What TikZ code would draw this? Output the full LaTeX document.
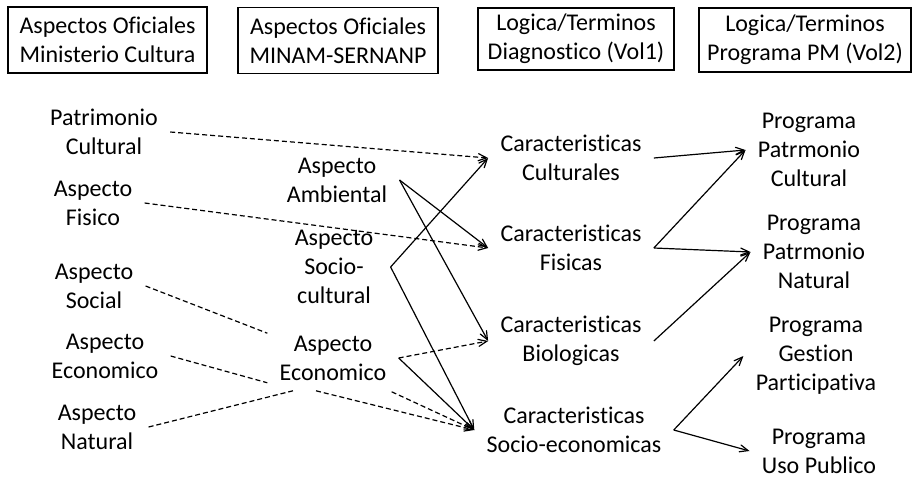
\documentclass[tikz,border=0pt]{standalone}
\usepackage{fontspec}
\setmainfont{Carlito}[Ligatures={NoCommon,NoRare,NoContextual}]
\usetikzlibrary{arrows, positioning, calc}
\tikzstyle{headbox} = [draw, line width=0.6pt, align=center, minimum height=33pt, inner sep=0pt]
\tikzstyle{term} = [align=center, inner xsep=6pt, inner ysep=1pt]
\tikzstyle{link} = [line width=0.6pt, ->, >=angle 45]
\tikzstyle{dlink} = [link, dash pattern=on 2.5pt off 1.5pt]
\tikzstyle{dline} = [line width=0.6pt, dash pattern=on 2.5pt off 1.5pt]

\begin{document}
\begin{tikzpicture}[x=0.5pt, y=-0.5pt, font=\fontsize{12}{14.6}\selectfont]
\useasboundingbox (0,0) rectangle (916,477);
% Column headers
\node[headbox, minimum width=99.5pt] (hmc) at (107.5,40) {Aspectos Oficiales\\Ministerio Cultura};
\node[headbox, minimum width=100pt] (hmin) at (338,40.5) {Aspectos Oficiales\\MINAM-SERNANP};
\node[headbox, minimum width=98pt, minimum height=31pt] (hvol1) at (576,39) {Logica/Terminos\\Diagnostico (Vol1)};
\node[headbox, minimum width=106pt, minimum height=32pt] (hvol2) at (805,40) {Logica/Terminos\\Programa PM (Vol2)};

% Ministerio Cultura
\node[term] (pc) at (104,132) {Patrimonio\\Cultural};
\node[term] (af) at (93,203) {Aspecto\\Fisico};
\node[term] (as) at (94,286) {Aspecto\\Social};
\node[term] (ae) at (105,356) {Aspecto\\Economico};
\node[term] (an) at (97,427) {Aspecto\\Natural};

% MINAM-SERNANP
\node[term] (amb) at (337,180) {Aspecto\\Ambiental};
\node[term] (soc) at (334,267) {Aspecto\\Socio-\\cultural};
\node[term] (eco) at (333,358) {Aspecto\\Economico};

% Diagnostico
\node[term] (cc) at (571,158) {Caracteristicas\\Culturales};
\node[term] (cf) at (571,248) {Caracteristicas\\Fisicas};
\node[term] (cb) at (571,341) {Caracteristicas\\Biologicas};
\node[term] (cs) at (574,430) {Caracteristicas\\Socio-economicas};

% Programas
\node[term] (ppc) at (809,150) {Programa\\Patrmonio\\Cultural};
\node[term] (ppn) at (814,252) {Programa\\Patrmonio\\Natural};
\node[term] (pgp) at (816,356) {Programa\\Gestion\\Participativa};
\node[term] (pup) at (819,451) {Programa\\Uso Publico};

% dashed links
\draw[dlink] (pc.east) -- (cc.west);
\draw[dlink] (af.east) -- (cf.west);
\draw[dline] (as.east) -- (eco.north west);
\draw[dline] (ae.east) -- (eco.south west);
\draw[dline] (an.east) -- ([shift={(-40,8)}]eco.south);
\draw[dlink] (eco.east) -- (cb.west);
\draw[dlink] ([shift={(-17,8)}]eco.south) -- (cs.west);
\draw[dlink] ([shift={(-7,9)}]eco.south east) -- (cs.west);

% solid links
\draw[link] (amb.east) -- (cf.west);
\draw[link] (amb.east) -- (cb.west);
\draw[link] ([shift={(5,0)}]soc.east) -- (cc.west);
\draw[link] ([shift={(5,0)}]soc.east) -- (cs.west);
\draw[link] (eco.east) -- (cs.west);
\draw[link] (cc.east) -- (ppc.west);
\draw[link] (cf.east) -- (ppc.west);
\draw[link] (cf.east) -- (ppn.west);
\draw[link] (cb.east) -- (ppn.west);
\draw[link] (cs.east) -- (pgp.west);
\draw[link] (cs.east) -- (pup.west);
\end{tikzpicture}
\end{document}
